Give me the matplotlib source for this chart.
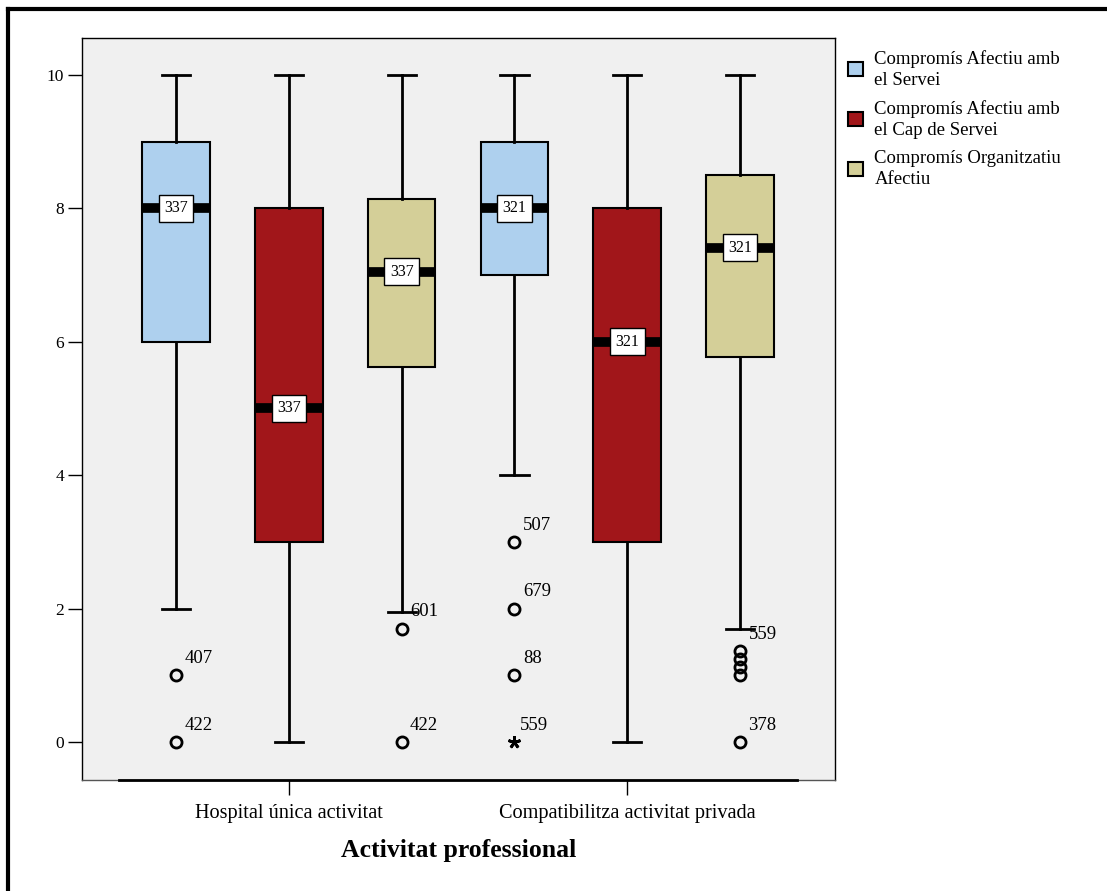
import matplotlib.pyplot as plt
from matplotlib.patches import Patch
from matplotlib.lines import Line2D

plt.rcParams['font.family'] = ['Liberation Serif', 'DejaVu Serif']

# dades
grups = ['Hospital única activitat', 'Compatibilitza activitat privada']
series = ['Compromís Afectiu amb\nel Servei',
          'Compromís Afectiu amb\nel Cap de Servei',
          'Compromís Organitzatiu\nAfectiu']
colors = ['#aed0ee', '#a1161a', '#d4cf98']
n_labels = ['337', '337', '337', '321', '321', '321']

q1 = [6.0, 3.0, 5.62, 7.0, 3.0, 5.77]
medians = [8.0, 5.0, 7.05, 8.0, 6.0, 7.41]
q3 = [9.0, 8.0, 8.14, 9.0, 8.0, 8.5]
whislo = [2.0, 0.0, 1.95, 4.0, 0.0, 1.69]
whishi = [10.0, 10.0, 10.0, 10.0, 10.0, 10.0]

# valors atípics (caixa, valor, etiqueta)
out_box = [0, 0, 2, 2, 3, 3, 3, 5, 5, 5, 5, 5]
out_val = [1.0, 0.0, 1.7, 0.0, 3.0, 2.0, 1.0, 1.36, 1.24, 1.12, 1.0, 0.0]
out_lab = ['407', '422', '601', '422', '507', '679', '88', '559', '', '', '', '378']
# valors extrems
ext_box = [3]
ext_val = [0.0]
ext_lab = ['559']

positions = [1, 2, 3, 4, 5, 6]

fig = plt.figure(figsize=(11.07, 8.91), dpi=100)
ax = fig.add_axes([0.0741, 0.1246, 0.6802, 0.8328])
ax.set_facecolor('#f0f0f0')

stats = []
for i in range(6):
    stats.append(dict(q1=q1[i], med=medians[i], q3=q3[i],
                      whislo=whislo[i], whishi=whishi[i], fliers=[]))

bp = ax.bxp(stats, positions=positions, widths=0.6, patch_artist=True,
            showfliers=False,
            boxprops=dict(linewidth=1.5, edgecolor='black'),
            whiskerprops=dict(linewidth=2, color='black'),
            capprops=dict(linewidth=2, color='black'),
            medianprops=dict(linewidth=7, color='black', solid_capstyle='butt'),
            capwidths=0.25)
for i, b in enumerate(bp['boxes']):
    b.set_facecolor(colors[i % 3])

for i in range(6):
    ax.text(positions[i], medians[i], n_labels[i], ha='center', va='center',
            fontsize=11.5, zorder=5,
            bbox=dict(boxstyle='square,pad=0.33', facecolor='white',
                      edgecolor='black', linewidth=1))

for b, v, lab in zip(out_box, out_val, out_lab):
    x = positions[b]
    ax.plot(x, v, 'o', markersize=8, markerfacecolor='none',
            markeredgecolor='black', markeredgewidth=2, zorder=4)
    if lab:
        ax.annotate(lab, (x, v), xytext=(6, 6), textcoords='offset points',
                    fontsize=13.5, ha='left', va='bottom')

for b, v, lab in zip(ext_box, ext_val, ext_lab):
    x = positions[b]
    ax.plot(x, v, marker=(5, 2, 0), markersize=9, color='black',
            markeredgewidth=2, zorder=4)
    ax.annotate(lab, (x, v), xytext=(4, 6), textcoords='offset points',
                fontsize=13.5, ha='left', va='bottom')

ax.set_xlim(0.168, 6.84)
ax.set_ylim(-0.57, 10.555)
ax.set_yticks([0, 2, 4, 6, 8, 10])
ax.set_xticks([2, 5])
ax.set_xticklabels(grups)
ax.tick_params(axis='y', length=10, width=1, labelsize=12.5, pad=3)
ax.tick_params(axis='x', length=11, width=1, labelsize=14.6, pad=6)
for s in ax.spines.values():
    s.set_color('#555555')
    s.set_linewidth(1)
ax.spines['left'].set_color('black')
ax.spines['right'].set_color('black')
ax.spines['top'].set_color('black')
# eix x
ax.plot([0.5, 6.5], [-0.57, -0.57], color='black', linewidth=2,
        clip_on=False, zorder=6)

ax.set_xlabel('Activitat professional', fontsize=18.5, fontweight='bold',
              labelpad=12)

handles = [Patch(facecolor=c, edgecolor='black', linewidth=1.5) for c in colors]
leg = fig.legend(handles, series, loc='upper left', bbox_to_anchor=(0.751, 0.963),
                 frameon=False, fontsize=13.5, handlelength=0.8, handleheight=0.8,
                 handletextpad=0.6, labelspacing=0.6)
for t in leg.get_texts():
    t.set_linespacing(1.3)

# marc exterior
fig.add_artist(Line2D([0.0075, 0.0075], [0, 0.99], transform=fig.transFigure,
                      color='black', linewidth=3))
fig.add_artist(Line2D([0.0075, 1.0], [0.99, 0.99], transform=fig.transFigure,
                      color='black', linewidth=3))

fig.savefig('out.png', dpi=100)
